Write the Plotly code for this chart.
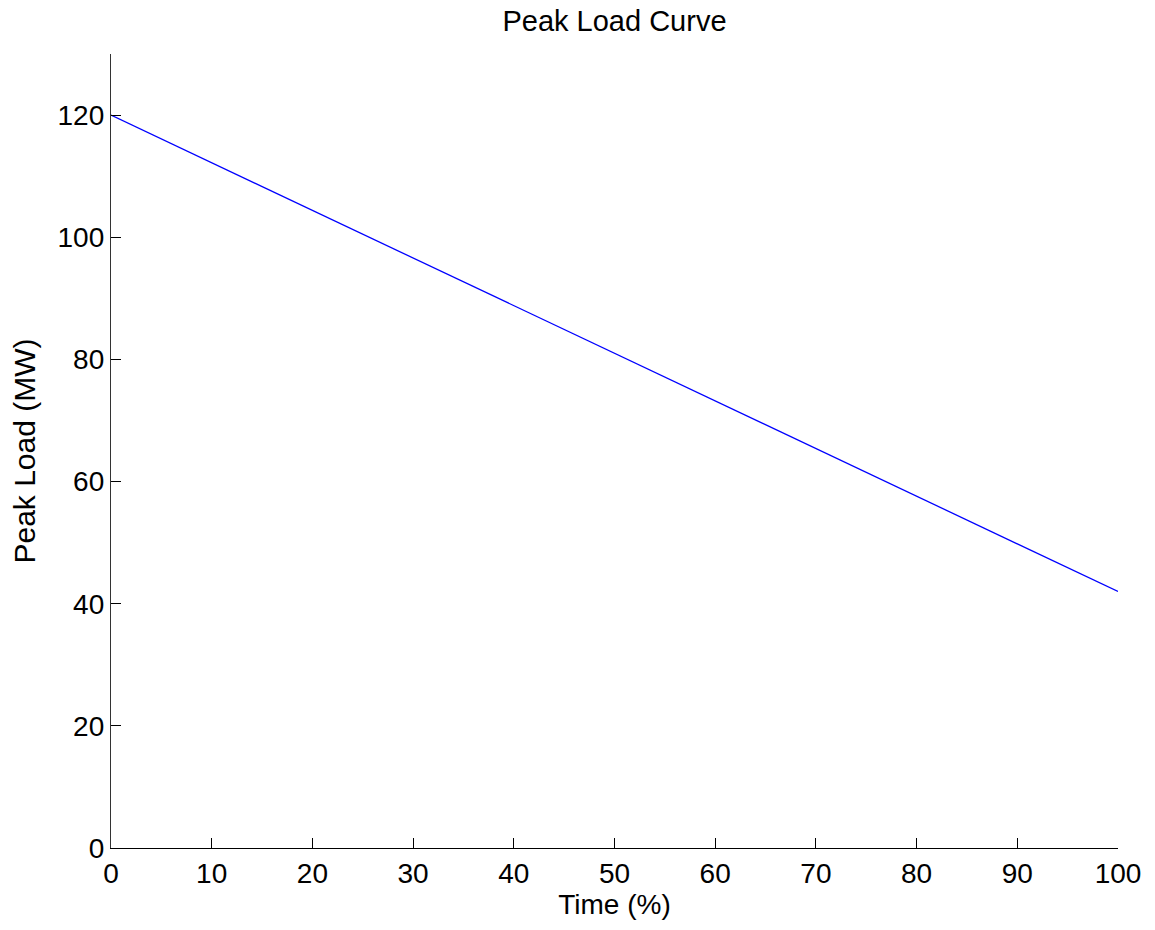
import plotly.graph_objects as go

time_pct = [0, 100]
peak_load = [120, 42]

x_ticks = [0, 10, 20, 30, 40, 50, 60, 70, 80, 90, 100]
y_ticks = [0, 20, 40, 60, 80, 100, 120]

FONT = "Liberation Sans, Arial, Helvetica, sans-serif"
FS = 28

fig = go.Figure()
fig.add_trace(go.Scatter(x=time_pct, y=peak_load, mode="lines",
                         line=dict(color="#0000FF", width=1.3), showlegend=False))

fig.update_layout(
    width=1155, height=930,
    paper_bgcolor="white", plot_bgcolor="white",
    margin=dict(l=111, r=37, t=54, b=82, autoexpand=False),
    font=dict(family=FONT, size=FS, color="black"),
    title=dict(text="Peak Load Curve", x=0.5, xanchor="center", xref="paper",
               y=1 - 21 / 930, yanchor="middle", yref="container",
               font=dict(family=FONT, size=29, color="black")),
)
fig.update_xaxes(range=[0, 100], tickvals=x_ticks, ticktext=[str(v) for v in x_ticks],
                 ticks="inside", ticklen=10, tickcolor="black", tickwidth=1,
                 showline=True, linecolor="black", linewidth=1,
                 showgrid=False, zeroline=False, tickfont=dict(size=FS),
                 title=dict(text="Time (%)", standoff=4, font=dict(size=FS)))
fig.update_yaxes(range=[0, 130], tickvals=y_ticks, ticktext=[str(v) for v in y_ticks],
                 ticks="inside", ticklen=10, tickcolor="black", tickwidth=1,
                 showline=True, linecolor="#333333", linewidth=1.3,
                 showgrid=False, zeroline=False, tickfont=dict(size=FS),
                 title=dict(text="Peak Load (MW)", standoff=13, font=dict(size=30)))

fig.write_html("out.html",
               config={"displayModeBar": False},
               post_script="document.body.style.margin='0';document.body.style.padding='0';")
